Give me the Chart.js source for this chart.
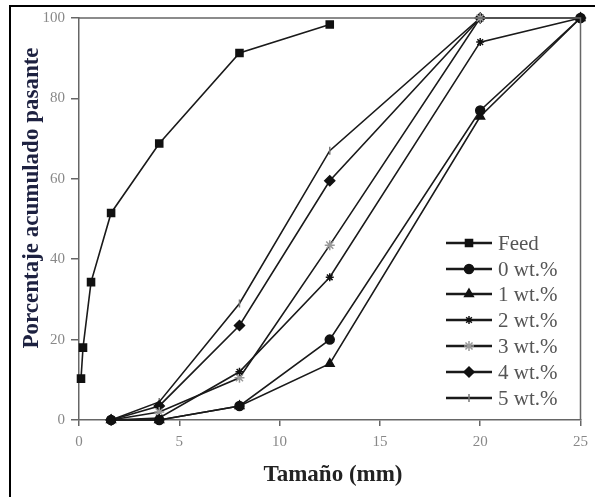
<!DOCTYPE html>
<html lang="es">
<head>
    <meta charset="UTF-8">
    <title>Porcentaje acumulado pasante</title>
    <style>
        body {
            margin: 0;
            padding: 0;
            background: #fff;
        }
        .wrap {
            position: relative;
            width: 595px;
            height: 497px;
        }
        .frame {
            position: absolute;
            left: 9px;
            top: 5px;
            right: 0;
            bottom: 0;
            border-top: 2px solid #000;
            border-left: 2px solid #000;
            pointer-events: none;
        }
        canvas {
            position: absolute;
            left: 0;
            top: 0;
        }
    </style>
</head>
<body>
    <div class="wrap">
        <canvas id="chart" width="595" height="497"></canvas>
        <div class="frame"></div>
    </div>

    <script src="https://cdn.jsdelivr.net/npm/chart.js"></script>
    <script>
        // tamaños de tamiz (mm)
        const feedSize = [0.1, 0.2, 0.6, 1.6, 4, 8, 12.5];
        const sieveSize = [1.6, 4, 8, 12.5, 20, 25];

        // porcentaje acumulado pasante
        const feedPass = [10.3, 18, 34.3, 51.5, 68.8, 91.3, 98.4];
        const pass0 = [0, 0, 3.5, 20, 77, 100];
        const pass1 = [0, 0, 3.5, 14, 75.5, 100];
        const pass2 = [0, 0.5, 12, 35.5, 94, 100];
        const pass3 = [0, 2, 10.5, 43.5, 100, 100];
        const pass4 = [0, 3.5, 23.5, 59.5, 100, 100];
        const pass5 = [0, 4.5, 29, 67, 100, 100];

        const labels = ['Feed', '0 wt.%', '1 wt.%', '2 wt.%', '3 wt.%', '4 wt.%', '5 wt.%'];
        const xTicks = [0, 5, 10, 15, 20, 25];
        const yTicks = [0, 20, 40, 60, 80, 100];

        const serif = '"Liberation Serif", "Times New Roman", serif';

        function pairs(xs, ys) {
            return xs.map((x, i) => ({ x: x, y: ys[i] }));
        }

        const seriesList = [
            { data: pairs(feedSize, feedPass), style: 'rect', r: 5, color: '#111', rot: 0 },
            { data: pairs(sieveSize, pass0), style: 'circle', r: 4.5, color: '#111', rot: 0 },
            { data: pairs(sieveSize, pass1), style: 'triangle', r: 5, color: '#111', rot: 0 },
            { data: pairs(sieveSize, pass2), style: 'star', r: 4, color: '#111', rot: 0 },
            { data: pairs(sieveSize, pass3), style: 'star', r: 5, color: '#999', rot: 0 },
            { data: pairs(sieveSize, pass4), style: 'rectRot', r: 5, color: '#111', rot: 0 },
            { data: pairs(sieveSize, pass5), style: 'line', r: 4, color: '#777', rot: 90 }
        ];

        const datasets = seriesList.map((s, i) => ({
            label: labels[i],
            data: s.data,
            borderColor: '#1a1a1a',
            borderWidth: 1.6,
            backgroundColor: s.color,
            pointStyle: s.style,
            pointRadius: s.r,
            pointRotation: s.rot,
            pointBorderColor: s.color,
            pointBackgroundColor: s.color,
            pointBorderWidth: 1.5,
            tension: 0,
            fill: false,
            clip: 12
        }));

        // caja del gráfico, títulos de ejes y leyenda
        const decor = {
            id: 'decor',
            afterDraw(chart) {
                const ctx = chart.ctx;
                const a = chart.chartArea;
                ctx.save();
                ctx.strokeStyle = '#666';
                ctx.lineWidth = 1.5;
                ctx.beginPath();
                ctx.moveTo(a.left, a.top);
                ctx.lineTo(a.right, a.top);
                ctx.lineTo(a.right, a.bottom);
                ctx.stroke();

                // títulos
                ctx.fillStyle = '#1d2140';
                ctx.font = 'bold 23px ' + serif;
                ctx.textAlign = 'center';
                ctx.textBaseline = 'middle';
                ctx.save();
                ctx.translate(32, 198);
                ctx.rotate(-Math.PI / 2);
                ctx.fillText('Porcentaje acumulado pasante', 0, 0);
                ctx.restore();
                ctx.fillStyle = '#222';
                ctx.font = 'bold 23px ' + serif;
                ctx.fillText('Tamaño (mm)', 333, 475);

                // leyenda
                const x0 = 446, x1 = 492, tx = 498;
                const ys = [243, 269, 294, 320, 346, 372, 398];
                chart.data.datasets.forEach((ds, i) => {
                    const y = ys[i];
                    ctx.strokeStyle = '#1a1a1a';
                    ctx.lineWidth = 2.4;
                    ctx.beginPath();
                    ctx.moveTo(x0, y);
                    ctx.lineTo(x1, y);
                    ctx.stroke();
                    ctx.fillStyle = ds.pointBackgroundColor;
                    ctx.strokeStyle = ds.pointBorderColor;
                    ctx.lineWidth = 1.5;
                    Chart.helpers.drawPoint(ctx, {
                        pointStyle: ds.pointStyle,
                        radius: ds.pointRadius,
                        rotation: ds.pointRotation,
                        borderWidth: 1.5
                    }, (x0 + x1) / 2, y);
                    ctx.fillStyle = '#555';
                    ctx.font = '21px ' + serif;
                    ctx.textAlign = 'left';
                    ctx.textBaseline = 'middle';
                    ctx.fillText(ds.label, tx, y + 1);
                });
                ctx.restore();
            }
        };

        new Chart(document.getElementById('chart'), {
            type: 'line',
            data: { datasets: datasets },
            plugins: [decor],
            options: {
                responsive: false,
                animation: false,
                devicePixelRatio: 1,
                layout: { padding: { top: 18, right: 13, left: 0, bottom: 0 } },
                plugins: {
                    legend: { display: false },
                    tooltip: { enabled: false }
                },
                scales: {
                    x: {
                        type: 'linear',
                        min: 0,
                        max: 25,
                        afterFit(scale) { scale.height = 77; },
                        afterBuildTicks(scale) { scale.ticks = xTicks.map(v => ({ value: v })); },
                        border: { display: true, color: '#666', width: 1.5 },
                        grid: { display: true, drawOnChartArea: false, drawTicks: true, tickLength: 6, color: '#666', lineWidth: 1.5 },
                        ticks: { color: '#888', padding: 7, font: { family: serif, size: 15 }, maxRotation: 0 }
                    },
                    y: {
                        min: 0,
                        max: 100,
                        afterFit(scale) { scale.width = 79; },
                        afterBuildTicks(scale) { scale.ticks = yTicks.map(v => ({ value: v })); },
                        border: { display: true, color: '#666', width: 1.5 },
                        grid: { display: true, drawOnChartArea: false, drawTicks: true, tickLength: 8, color: '#666', lineWidth: 1.5 },
                        ticks: { color: '#888', padding: 6, font: { family: serif, size: 15 } }
                    }
                }
            }
        });
    </script>
</body>
</html>
